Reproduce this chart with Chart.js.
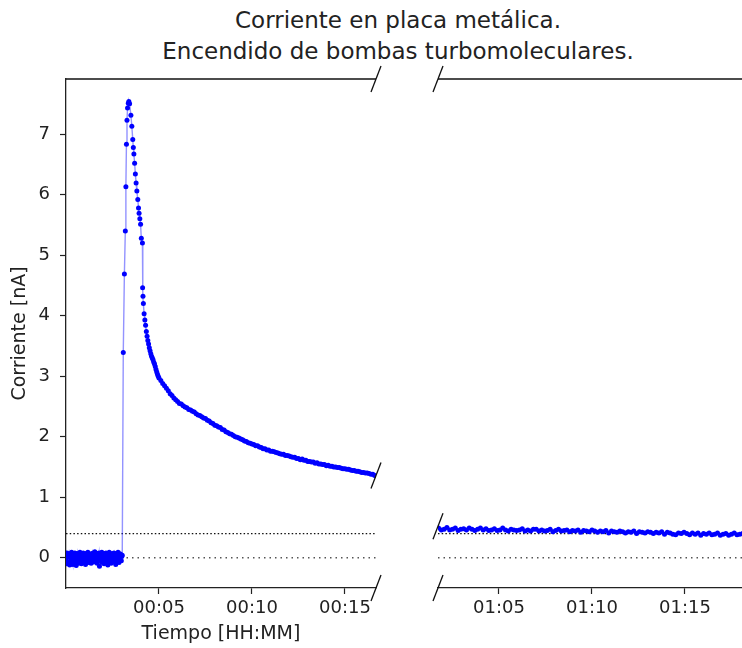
<!DOCTYPE html>
<html>
<head>
<meta charset="utf-8">
<script src="https://cdn.jsdelivr.net/npm/chart.js@4"></script>
<style>
  body { margin: 0; width: 742px; height: 648px; overflow: hidden; background: #fff; position: relative; font-family: "DejaVu Sans", sans-serif; }
  #title { position: absolute; left: 0; width: 796px; top: 5px; text-align: center; font-size: 23px; line-height: 31px; color: #222; }
  canvas { position: absolute; top: 0; }
  #left { left: 0; }
  #right { left: 390px; }
</style>
</head>
<body>
<div id="title">Corriente en placa metálica.<br>Encendido de bombas turbomoleculares.</div>
<canvas id="left" width="390" height="648"></canvas>
<canvas id="right" width="370" height="648"></canvas>
<script>
// tiempos en minutos desde el inicio, corriente en nA
const yMin = -0.5
const yMax = 7.91
const yTicks = [0, 1, 2, 3, 4, 5, 6, 7]
const leftRange = [0, 16.67]
const rightRange = [61.72, 78.39]
const leftTicks = [5, 10, 15]
const rightTicks = [65, 70, 75]
const thresholdLines = [0, 0.4]

// ruido antes del encendido (cada 0.025 min desde t=0)
const noiseStep = 0.025
const noiseValues = [0.02,-0.05,0.08,-0.10,0.03,0.06,-0.08,0.01,-0.12,0.07,0.04,-0.03,0.09,-0.06,0.00,-0.11,0.05,0.02,-0.07,0.08,
  -0.02,0.06,-0.13,0.03,0.07,-0.04,-0.09,0.05,0.01,-0.06,0.09,-0.03,0.04,-0.10,0.06,0.00,-0.05,0.08,-0.08,0.03,
  0.05,-0.02,-0.11,0.07,0.01,-0.06,0.04,0.09,-0.04,-0.08,0.02,0.06,-0.03,0.05,-0.09,0.03,0.07,-0.05,0.00,0.08,
  -0.07,0.04,0.10,-0.02,-0.06,0.05,0.01,-0.09,0.07,-0.03,0.03,0.08,-0.14,0.02,0.06,-0.05,0.00,0.09,-0.08,0.04,
  -0.01,0.07,-0.10,0.03,0.05,-0.04,0.08,-0.07,0.01,0.06,-0.12,0.04,-0.02,0.09,-0.05,0.02,0.07,-0.09,0.03,-0.03,
  0.06,0.00,-0.07,0.08,-0.04,0.05,0.02,-0.11,0.07,-0.01,0.04,-0.06,0.09,0.01,-0.08,0.05,-0.03,0.06,0.03,-0.05,0.02,0.04]

// pico
const peakTimes = [3.08,3.14,3.19,3.22,3.25,3.28,3.31,3.35,3.38,3.42,3.49,3.54,3.59,3.62,3.65,3.69,3.73,3.77,3.81,3.86,3.90,3.93,3.97,4.01,4.05,4.11,4.12,4.14]
const peakValues = [3.39,4.69,5.40,6.13,6.83,7.23,7.43,7.51,7.54,7.50,7.31,7.13,6.91,6.78,6.67,6.52,6.34,6.19,6.06,5.92,5.78,5.69,5.60,5.51,5.28,5.20,4.46,4.32]

// caída rápida (cada 0.04 min desde 4.16)
const fastStart = 4.16
const fastStep = 0.04
const fastValues = [4.20,4.03,3.93,3.84,3.74,3.66,3.59,3.53,3.47,3.42,3.37,3.33,3.30,3.27,3.23,3.20,3.16,3.11,3.07,3.03,3.00,2.97]

// caída lenta (cada 0.1 min desde 5.1)
const slowStart = 5.1
const slowStep = 0.1
const slowValues = [2.93,2.88,2.84,2.80,2.76,2.71,2.68,2.64,2.61,2.58,2.55,2.54,2.51,2.49,2.48,2.45,2.44,2.42,2.41,2.38,
  2.36,2.35,2.33,2.31,2.30,2.27,2.26,2.23,2.22,2.19,2.18,2.16,2.15,2.12,2.11,2.08,2.07,2.05,2.04,2.02,
  2.00,1.99,1.98,1.96,1.95,1.93,1.92,1.90,1.89,1.88,1.87,1.85,1.85,1.83,1.82,1.80,1.80,1.78,1.78,1.76,
  1.76,1.75,1.74,1.73,1.72,1.71,1.71,1.69,1.69,1.68,1.67,1.66,1.66,1.64,1.64,1.62,1.63,1.61,1.61,1.59,
  1.59,1.58,1.58,1.56,1.57,1.55,1.55,1.54,1.54,1.52,1.53,1.51,1.51,1.50,1.50,1.49,1.49,1.48,1.47,1.47,
  1.46,1.46,1.45,1.44,1.44,1.43,1.43,1.42,1.41,1.41,1.40,1.40,1.39,1.38,1.38,1.36]

// segundo tramo (cada 0.15 min desde 61.6)
const lateStart = 61.6
const lateStep = 0.15
const lateValues = [0.47,0.49,0.46,0.47,0.50,0.46,0.47,0.49,0.45,0.47,
  0.48,0.46,0.49,0.47,0.45,0.47,0.49,0.46,0.48,0.45,
  0.46,0.48,0.45,0.46,0.49,0.46,0.44,0.47,0.46,0.45,
  0.46,0.48,0.44,0.46,0.44,0.47,0.47,0.44,0.46,0.44,
  0.45,0.47,0.43,0.45,0.47,0.44,0.45,0.46,0.43,0.45,
  0.44,0.46,0.42,0.45,0.44,0.43,0.46,0.44,0.42,0.44,
  0.43,0.45,0.41,0.44,0.43,0.42,0.44,0.43,0.41,0.43,
  0.42,0.44,0.40,0.43,0.42,0.41,0.43,0.42,0.40,0.42,
  0.41,0.43,0.39,0.42,0.41,0.39,0.38,0.41,0.40,0.42,
  0.40,0.38,0.41,0.39,0.41,0.37,0.40,0.39,0.41,0.38,
  0.39,0.41,0.37,0.39,0.40,0.37,0.39,0.41,0.38,0.39,
  0.40,0.37,0.39]

let leftPoints = []
noiseValues.forEach((v, i) => leftPoints.push({x: i * noiseStep, y: v}))
peakValues.forEach((v, i) => leftPoints.push({x: peakTimes[i], y: v}))
fastValues.forEach((v, i) => leftPoints.push({x: fastStart + i * fastStep, y: v}))
slowValues.forEach((v, i) => leftPoints.push({x: slowStart + i * slowStep, y: v}))
let rightPoints = lateValues.map((v, i) => ({x: lateStart + i * lateStep, y: v}))

const fmtTime = v => {
    let h = Math.floor(v / 60)
    let m = Math.round(v - h * 60)
    return String(h).padStart(2, '0') + ':' + String(m).padStart(2, '0')
}

const font = {family: '"DejaVu Sans", sans-serif', size: 18}
const labelFont = {family: '"DejaVu Sans", sans-serif', size: 19}
const ink = '#222'

function thresholdSets(range) {
    return thresholdLines.map(v => ({
        data: [{x: range[0], y: v}, {x: range[1], y: v}],
        borderColor: v === 0 ? '#555' : '#111',
        borderWidth: 1.3,
        borderDash: v === 0 ? [1.5, 4] : [1.5, 2.2],
        pointRadius: 0,
        order: 2
    }))
}

// marcas de corte y borde superior
function breakPlugin(side, marks) {
    return {
        id: 'breaks',
        afterDraw(chart) {
            let ctx = chart.ctx
            let a = chart.chartArea
            let ys = chart.scales.y
            ctx.save()
            ctx.strokeStyle = '#111'
            ctx.lineWidth = 1.3
            ctx.beginPath()
            ctx.moveTo(a.left, a.top)
            ctx.lineTo(a.right, a.top)
            ctx.stroke()
            let x = side === 'right' ? a.right : a.left
            let ys2 = [a.top, a.bottom].concat(marks.map(v => ys.getPixelForValue(v)))
            ys2.forEach(y => {
                ctx.beginPath()
                ctx.moveTo(x - 5, y + 13)
                ctx.lineTo(x + 5, y - 13)
                ctx.stroke()
            })
            ctx.restore()
        }
    }
}

function makeChart(id, points, range, ticks, showY, padding, side, marks) {
    return new Chart(document.getElementById(id), {
        type: 'line',
        data: {
            datasets: [{
                data: points,
                borderColor: 'rgba(40, 40, 255, 0.5)',
                borderWidth: 1.4,
                pointRadius: 2.5,
                pointBackgroundColor: '#0000ff',
                pointBorderWidth: 0,
                order: 1
            }].concat(thresholdSets(range))
        },
        options: {
            responsive: false,
            animation: false,
            layout: {padding: padding},
            plugins: {legend: {display: false}, tooltip: {enabled: false}},
            scales: {
                x: {
                    type: 'linear',
                    min: range[0],
                    max: range[1],
                    afterBuildTicks: s => { s.ticks = ticks.map(v => ({value: v})) },
                    afterFit: s => { s.height = 60 },
                    grid: {drawOnChartArea: false, tickLength: 6, color: ink, tickWidth: 1.2},
                    border: {display: true, color: ink, width: 1.3},
                    ticks: {color: ink, font: font, padding: 4, maxRotation: 0, callback: v => fmtTime(v)},
                    title: showY ? {display: true, text: 'Tiempo [HH:MM]', color: ink, font: labelFont, padding: {top: 0, bottom: 3}} : {display: false}
                },
                y: {
                    min: yMin,
                    max: yMax,
                    display: showY,
                    afterBuildTicks: s => { s.ticks = yTicks.map(v => ({value: v})) },
                    afterFit: s => { s.width = showY ? 66 : 0 },
                    grid: {drawOnChartArea: false, tickLength: 6, color: ink, tickWidth: 1.2},
                    border: {display: true, color: ink, width: 1.3},
                    ticks: {color: ink, font: font, padding: 10},
                    title: {display: true, text: 'Corriente [nA]', color: ink, font: labelFont, padding: {top: 9, bottom: 0}}
                }
            }
        },
        plugins: [breakPlugin(side, marks)]
    })
}

makeChart('left', leftPoints, leftRange, leftTicks, true, {top: 79, right: 14, left: 0, bottom: 0}, 'right', [1.36])
makeChart('right', rightPoints, rightRange, rightTicks, false, {top: 79, right: 12, left: 48, bottom: 0}, 'left', [0.52])
</script>
</body>
</html>
